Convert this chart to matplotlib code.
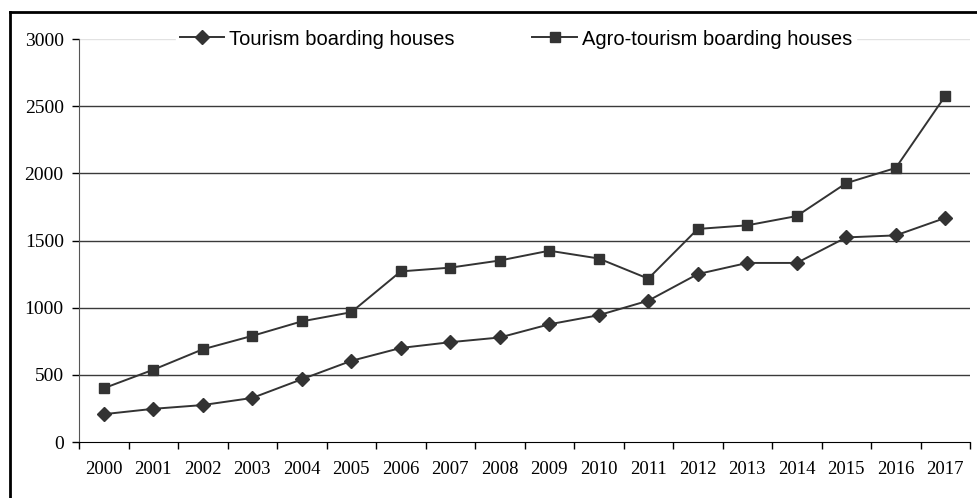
import matplotlib
matplotlib.use("Agg")
import matplotlib.pyplot as plt
from matplotlib.lines import Line2D
import numpy as np

years = ["2000", "2001", "2002", "2003", "2004", "2005", "2006", "2007", "2008",
         "2009", "2010", "2011", "2012", "2013", "2014", "2015", "2016", "2017"]
tourism = [207, 247, 275, 328, 467, 604, 700, 743, 778,
           876, 944, 1052, 1250, 1333, 1333, 1523, 1538, 1668]
agro = [400, 538, 690, 790, 898, 966, 1270, 1298, 1351,
        1424, 1366, 1216, 1586, 1613, 1682, 1927, 2040, 2576]
yticks = [0, 500, 1000, 1500, 2000, 2500, 3000]

W, H = 977, 498
fig = plt.figure(figsize=(W / 100, H / 100), dpi=100)
ax = fig.add_axes([79 / W, (H - 442) / H, (970 - 79) / W, (442 - 39) / H])

x = np.arange(len(years))
col = "#333333"
ax.plot(x, tourism, color=col, lw=1.4, marker="D", ms=7.5, mfc=col, mec=col,
        label="Tourism boarding houses", zorder=3)
ax.plot(x, agro, color=col, lw=1.4, marker="s", ms=7.5, mfc=col, mec=col,
        label="Agro-tourism boarding houses", zorder=3)

ax.set_xlim(-0.5, len(years) - 0.5)
ax.set_ylim(0, 3000)

for v in yticks[1:-1]:
    ax.axhline(v, color="#3a3a3a", lw=1.0, zorder=1)
ax.axhline(3000, color="#e2e2e2", lw=1.0, zorder=1)

ax.set_yticks(yticks)
ax.set_yticklabels([str(v) for v in yticks], fontfamily="Liberation Serif", fontsize=14)
ax.set_xticks(x)
ax.set_xticklabels(years, fontfamily="Liberation Serif", fontsize=13.5)
ax.set_xticks(np.arange(-0.5, len(years)), minor=True)
ax.tick_params(axis="x", which="major", length=0, pad=14)
ax.tick_params(axis="x", which="minor", length=5, width=1, direction="out", color="black")
ax.tick_params(axis="y", length=5, width=1, direction="out", pad=6, color="black")

for s in ["top", "right"]:
    ax.spines[s].set_visible(False)
ax.spines["left"].set_color("#555555")
ax.spines["bottom"].set_color("black")

leg = ax.legend(loc="center", bbox_to_anchor=(0.4905, 1.0), ncol=2, frameon=True,
                prop={"family": "Liberation Sans", "size": 14.5},
                handlelength=2.2, handletextpad=0.25, columnspacing=3.85,
                borderpad=0.2, borderaxespad=0, fancybox=False, framealpha=1.0,
                edgecolor="white")
leg.set_zorder(5)

# outer frame (left and top edges)
fig.add_artist(Line2D([10 / W, 10 / W], [0, (H - 12) / H], color="black", lw=2,
                      transform=fig.transFigure))
fig.add_artist(Line2D([10 / W, 1.0], [(H - 12) / H, (H - 12) / H], color="black", lw=2,
                      transform=fig.transFigure))

fig.savefig("out.png", dpi=100)
